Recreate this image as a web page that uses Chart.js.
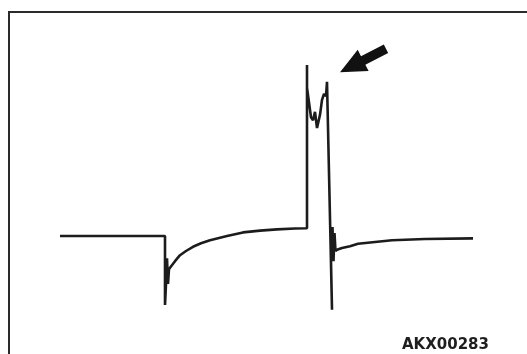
<!DOCTYPE html>
<html>
<head>
<meta charset="utf-8">
<script src="https://cdn.jsdelivr.net/npm/chart.js@4/dist/chart.umd.min.js"></script>
<style>
  html, body { margin: 0; padding: 0; background: #fff; overflow: hidden; }
  #wrap { position: relative; width: 527px; height: 354px; overflow: hidden; }
  #frame { position: absolute; left: 8px; top: 11px; width: 700px; height: 500px; border: 2px solid #2a2a2a; box-sizing: border-box; }
  canvas { position: absolute; left: 0; top: 0; }
  #code { position: absolute; left: 402px; top: 337px; font-family: "DejaVu Sans", sans-serif; font-weight: bold; font-size: 15px; line-height: 15px; color: #1e1e1e; white-space: nowrap; }
</style>
</head>
<body>
<div id="wrap">
  <div id="frame"></div>
  <canvas id="c" width="527" height="354"></canvas>
  <div id="code">AKX00283</div>
</div>
<script>
// Waveform samples (time in arbitrary units, voltage in V)
const timeValues = [0, 105, 105, 106, 107, 108, 109, 110, 115, 120, 126, 133, 141, 150, 167, 183, 200, 217, 235, 247,
  247, 247, 251, 253, 255, 257, 260, 262, 264, 266, 267,
  272, 271, 272.5, 273.5, 274.5, 275.5, 277, 282, 290, 298, 315, 332, 365, 413];
const voltValues = [11.5, 11.5, 0, 3.5, 7.8, 3.5, 6.0, 6.2, 7.3, 8.3, 9.0, 9.7, 10.3, 10.8, 11.5, 12.1, 12.4, 12.6, 12.75, 12.8,
  40, 36.2, 31.3, 30.8, 32.2, 29.5, 31.7, 34.2, 35.2, 34.8, 37.2,
  -0.8, 7.2, 13.0, 7.3, 12.0, 9.0, 9.2, 9.5, 9.8, 10.2, 10.5, 10.8, 11.0, 11.1];
// Arrow marker pointing at the surge (tail -> tip), in data units
const arrowTail = [326, 42.7];
const arrowTip = [280, 38.8];

const points = timeValues.map((t, i) => ({ x: t, y: voltValues[i] }));

const arrowPlugin = {
  id: 'arrowMarker',
  afterDatasetsDraw(chart) {
    const { ctx, scales } = chart;
    const tx = scales.x.getPixelForValue(arrowTip[0]);
    const ty = scales.y.getPixelForValue(arrowTip[1]);
    const sx = scales.x.getPixelForValue(arrowTail[0]);
    const sy = scales.y.getPixelForValue(arrowTail[1]);
    const dx = sx - tx, dy = sy - ty;
    const len = Math.hypot(dx, dy);
    const ux = dx / len, uy = dy / len;
    const nx = -uy, ny = ux;
    const headLen = 26, headHalf = 12, shaftHalf = 4.8;
    const bx = tx + ux * headLen, by = ty + uy * headLen;
    ctx.save();
    ctx.fillStyle = '#111';
    ctx.beginPath();
    ctx.moveTo(tx, ty);
    ctx.lineTo(bx + nx * headHalf, by + ny * headHalf);
    ctx.lineTo(bx + nx * shaftHalf, by + ny * shaftHalf);
    ctx.lineTo(sx + nx * shaftHalf, sy + ny * shaftHalf);
    ctx.lineTo(sx - nx * shaftHalf, sy - ny * shaftHalf);
    ctx.lineTo(bx - nx * shaftHalf, by - ny * shaftHalf);
    ctx.lineTo(bx - nx * headHalf, by - ny * headHalf);
    ctx.closePath();
    ctx.fill();
    ctx.restore();
  }
};

new Chart(document.getElementById('c'), {
  type: 'scatter',
  data: {
    datasets: [{
      data: points,
      showLine: true,
      borderColor: '#1c1c1c',
      borderWidth: 2.6,
      pointRadius: 0,
      tension: 0,
      borderJoinStyle: 'bevel',
      fill: false
    }]
  },
  options: {
    responsive: false,
    animation: false,
    layout: { padding: 0 },
    plugins: { legend: { display: false }, tooltip: { enabled: false } },
    scales: {
      x: { type: 'linear', min: -60, max: 467, display: false },
      y: { type: 'linear', min: -8.1667, max: 50.8333, display: false }
    }
  },
  plugins: [arrowPlugin]
});
</script>
</body>
</html>
